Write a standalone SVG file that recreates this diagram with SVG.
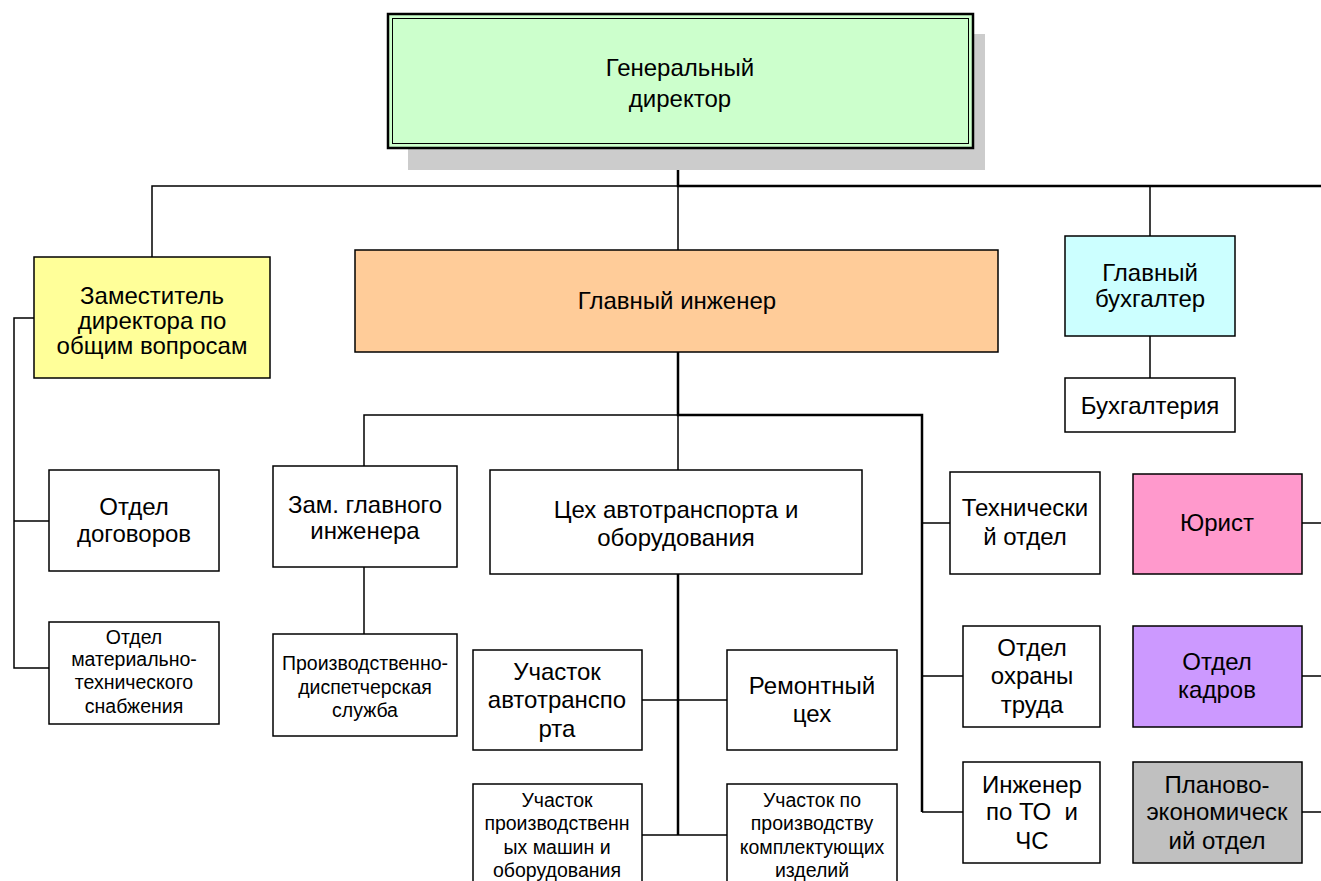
<svg xmlns="http://www.w3.org/2000/svg" width="1321" height="881" viewBox="0 0 1321 881">
<style>
.b{stroke:#000;stroke-width:1.5}
.w{fill:#fff}
text{font-family:"Liberation Sans",Arial,sans-serif;text-anchor:middle;fill:#000;white-space:pre}
.L{font-size:24px}
.S{font-size:19.5px}
.c{fill:none;stroke:#000;stroke-width:1.5}
.k{fill:none;stroke:#000;stroke-width:2.5}
</style>
<rect width="1321" height="881" fill="#fff"/>
<g id="connectors">
<path class="c" d="M152,257V186H678V250"/>
<path class="k" d="M678,148V186H1321"/>
<path class="c" d="M1150,186V236M1150,336V378"/>
<path class="c" d="M364,466V415H678V470"/>
<path class="k" d="M678,352V415H922V812"/>
<path class="c" d="M364,567V634"/>
<path class="k" d="M678,574V835"/>
<path class="c" d="M642,700H727M642,835H727"/>
<path class="c" d="M922,523H950M922,676H963M922,812H963"/>
<path class="c" d="M1302,523H1321M1302,676H1321M1302,812H1321"/>
<path class="c" d="M34,318H14V668H49M14,521H49"/>
</g>
<g id="gen">
<rect x="408" y="34" width="577" height="136" fill="#cccccc"/>
<rect x="388" y="14" width="585" height="134" fill="#CCFFCC" stroke="#000" stroke-width="2.5"/>
<rect x="392.5" y="18.5" width="576" height="125" fill="none" stroke="#000" stroke-width="1"/>
<text class="L" x="680" y="76">Генеральный</text>
<text class="L" x="680" y="107">директор</text>
</g>
<g id="zam">
<rect class="b" x="34" y="257" width="236" height="121" fill="#FFFF99"/>
<text class="L" x="152" y="304">Заместитель</text>
<text class="L" x="152" y="329">директора по</text>
<text class="L" x="152" y="354">общим вопросам</text>
</g>
<g id="glinzh">
<rect class="b" x="355" y="250" width="643" height="102" fill="#FFCC99"/>
<text class="L" x="677" y="309">Главный инженер</text>
</g>
<g id="glbuh">
<rect class="b" x="1065" y="236" width="170" height="100" fill="#CCFFFF"/>
<text class="L" x="1150" y="281">Главный</text>
<text class="L" x="1150" y="307">бухгалтер</text>
</g>
<g id="buh">
<rect class="b w" x="1065" y="378" width="170" height="54"/>
<text class="L" x="1150" y="414">Бухгалтерия</text>
</g>
<g id="otddog">
<rect class="b w" x="49" y="470" width="170" height="101"/>
<text class="L" x="134" y="515">Отдел</text>
<text class="L" x="134" y="542">договоров</text>
</g>
<g id="omts">
<rect class="b w" x="49" y="622" width="170" height="102"/>
<text class="S" x="134" y="644">Отдел</text>
<text class="S" x="134" y="666">материально-</text>
<text class="S" x="134" y="689">технического</text>
<text class="S" x="134" y="713">снабжения</text>
</g>
<g id="zamglinzh">
<rect class="b w" x="273" y="466" width="184" height="101"/>
<text class="L" x="365" y="513">Зам. главного</text>
<text class="L" x="365" y="539">инженера</text>
</g>
<g id="pds">
<rect class="b w" x="273" y="634" width="184" height="102"/>
<text class="S" x="365" y="670">Производственно-</text>
<text class="S" x="365" y="694">диспетчерская</text>
<text class="S" x="365" y="717">служба</text>
</g>
<g id="tseh">
<rect class="b w" x="490" y="470" width="372" height="104"/>
<text class="L" x="676" y="518">Цех автотранспорта и</text>
<text class="L" x="676" y="546">оборудования</text>
</g>
<g id="uchavto">
<rect class="b w" x="473" y="650" width="169" height="100"/>
<text class="L" x="557" y="680">Участок</text>
<text class="L" x="557" y="708">автотранспо</text>
<text class="L" x="557" y="737">рта</text>
</g>
<g id="remont">
<rect class="b w" x="727" y="650" width="170" height="100"/>
<text class="L" x="812" y="694">Ремонтный</text>
<text class="L" x="812" y="722">цех</text>
</g>
<g id="uchpm">
<rect class="b w" x="473" y="784" width="169" height="106"/>
<text class="S" x="557" y="807">Участок</text>
<text class="S" x="557" y="830">производственн</text>
<text class="S" x="557" y="854">ых машин и</text>
<text class="S" x="557" y="877">оборудования</text>
</g>
<g id="uchpk">
<rect class="b w" x="727" y="784" width="170" height="106"/>
<text class="S" x="812" y="807">Участок по</text>
<text class="S" x="812" y="830">производству</text>
<text class="S" x="812" y="854">комплектующих</text>
<text class="S" x="812" y="877">изделий</text>
</g>
<g id="tehotd">
<rect class="b w" x="950" y="472" width="150" height="102"/>
<text class="L" x="1025" y="516">Технически</text>
<text class="L" x="1025" y="545">й отдел</text>
</g>
<g id="ohrtr">
<rect class="b w" x="963" y="626" width="137" height="101"/>
<text class="L" x="1032" y="656">Отдел</text>
<text class="L" x="1032" y="684">охраны</text>
<text class="L" x="1032" y="713">труда</text>
</g>
<g id="inzhto">
<rect class="b w" x="963" y="762" width="137" height="101"/>
<text class="L" x="1032" y="793">Инженер</text>
<text class="L" x="1032" y="820">по ТО  и</text>
<text class="L" x="1032" y="849">ЧС</text>
</g>
<g id="yurist">
<rect class="b" x="1133" y="474" width="169" height="100" fill="#FF99CC"/>
<text class="L" x="1217" y="531">Юрист</text>
</g>
<g id="kadry">
<rect class="b" x="1133" y="626" width="169" height="101" fill="#CC99FF"/>
<text class="L" x="1217" y="670">Отдел</text>
<text class="L" x="1217" y="698">кадров</text>
</g>
<g id="peo">
<rect class="b" x="1133" y="762" width="169" height="101" fill="#C0C0C0"/>
<text class="L" x="1217" y="793">Планово-</text>
<text class="L" x="1217" y="820">экономическ</text>
<text class="L" x="1217" y="849">ий отдел</text>
</g>
</svg>
